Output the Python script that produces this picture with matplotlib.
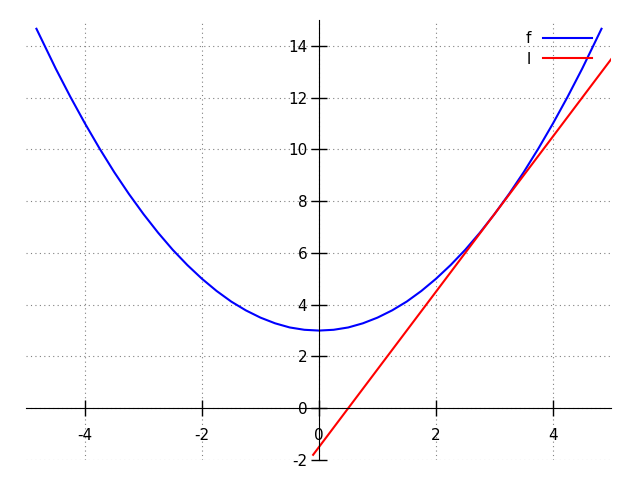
import matplotlib
matplotlib.use("Agg")
import matplotlib.pyplot as plt

# f(x)
f_x = [-4.83, -4.5, -4.25, -4.0, -3.75, -3.5, -3.25, -3.0, -2.75, -2.5, -2.25, -2.0,
       -1.75, -1.5, -1.25, -1.0, -0.75, -0.5, -0.25, 0.0, 0.25, 0.5, 0.75, 1.0,
       1.25, 1.5, 1.75, 2.0, 2.25, 2.5, 2.75, 3.0, 3.25, 3.5, 3.75, 4.0, 4.25, 4.5, 4.83]
f_y = [14.66, 13.12, 12.03, 11.0, 10.03, 9.12, 8.28, 7.5, 6.78, 6.12, 5.53, 5.0,
       4.53, 4.12, 3.78, 3.5, 3.28, 3.12, 3.03, 3.0, 3.03, 3.12, 3.28, 3.5,
       3.78, 4.12, 4.53, 5.0, 5.53, 6.12, 6.78, 7.5, 8.28, 9.12, 10.03, 11.0, 12.03, 13.12, 14.66]
# tangent line l
l_x = [-0.1, 5.0]
l_y = [-1.8, 13.5]

x_ticks = [-4, -2, 0, 2, 4]
y_ticks = [-2, 0, 2, 4, 6, 8, 10, 12, 14]

fig = plt.figure(figsize=(6.4, 4.8), dpi=100)
ax = fig.add_axes([0.0414, 0.0417, 0.914, 0.9167])
ax.plot(f_x, f_y, color="blue", lw=1.5, label="f")
ax.plot(l_x, l_y, color="red", lw=1.5, label="l")
ax.set_xlim(-5, 5)
ax.set_ylim(-2, 15)
ax.set_xticks(x_ticks)
ax.set_yticks(y_ticks)
ax.set_xticklabels([str(t) for t in x_ticks])
ax.set_yticklabels([str(t) for t in y_ticks])
ax.spines["left"].set_position(("data", 0))
ax.spines["bottom"].set_position(("data", 0))
ax.spines["top"].set_visible(False)
ax.spines["right"].set_visible(False)
ax.tick_params(direction="inout", length=11, width=1, labelsize=11)
ax.tick_params(axis="x", pad=9)
ax.tick_params(axis="y", pad=3)
ax.grid(True, linestyle=(0, (1, 3)), color="gray", lw=0.8)
ax.set_axisbelow(True)
ax.legend(loc="upper right", bbox_to_anchor=(0.983, 0.995), frameon=False,
          markerfirst=False, fontsize=11, handlelength=3.2, borderaxespad=0.2,
          labelspacing=0.35)
fig.savefig("out.png", dpi=100)
